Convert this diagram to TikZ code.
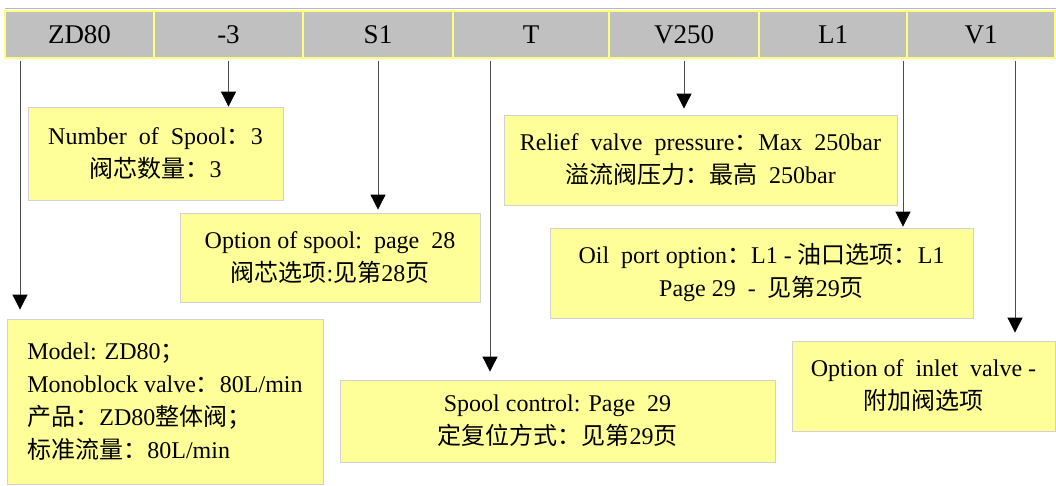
\documentclass[tikz,border=0pt]{standalone}
\usepackage{fontspec}
\setmainfont{Liberation Serif}
\newfontfamily\cjk{Noto Sans CJK SC}
\usetikzlibrary{positioning}
\usetikzlibrary{arrows.meta}
\newcommand{\zh}[1]{{\cjk #1}}
\definecolor{notefill}{RGB}{255,255,153}
\definecolor{cellfill}{RGB}{192,192,192}
\definecolor{celledge}{RGB}{255,255,130}

\tikzset{
  cell/.style={draw=celledge, line width=1.5pt, fill=cellfill, outer sep=0pt,
    minimum height=47pt, inner sep=0pt, font=\fontsize{27}{32}\selectfont},
  note/.style={draw=gray!35, line width=0.8pt, fill=notefill, inner sep=0pt,
    align=center, font=\fontsize{24}{33}\selectfont},
  lead/.style={draw=black!70, line width=0.8pt,
    -{Triangle[length=15pt,width=15pt,color=black,fill=black]}},
}

\begin{document}
\begin{tikzpicture}[x=1pt,y=-1pt]
    \useasboundingbox (0,0) rectangle (1056,485);
    \draw[gray!55, line width=0.8pt] (5,8) -- (1056,8);
    % code bar
    \node[cell, minimum width=149pt] (zd) at (79.5,34.5) {ZD80};
    \node[cell, minimum width=149pt, right=0pt of zd] (nsp) {-3};
    \node[cell, minimum width=150pt, right=0pt of nsp] (sone) {S1};
    \node[cell, minimum width=156pt, right=0pt of sone] (tee) {T};
    \node[cell, minimum width=150pt, right=0pt of tee] (vtf) {V250};
    \node[cell, minimum width=148pt, right=0pt of vtf] (lone) {L1};
    \node[cell, minimum width=148pt, right=0pt of lone] (vone) {V1};

    % explanation boxes
    \node[note, minimum width=255pt, minimum height=93pt] (num) at (155.5,153.5)
      {Number\ \ of\ \ Spool\zh{：}3\\ \zh{阀芯数量：}3};
    \node[note, minimum width=300pt, minimum height=89pt] (sopt) at (330,257.5)
      {Option of spool:\ \ page\ \ 28\\ \zh{阀芯选项}:\zh{见第}28\zh{页}};
    \node[note, align=left, minimum width=316pt, minimum height=165pt] (model) at (165,401.5)
      {Model: ZD80\zh{；}\\ Monoblock valve\zh{：}80L/min\\
       \zh{产品：}ZD80\zh{整体阀；}\\ \zh{标准流量：}80L/min};
    \node[note, minimum width=435pt, minimum height=82pt] (ctrl) at (557.5,421)
      {Spool control: Page\ \ 29\\ \zh{定复位方式：见第}29\zh{页}};
    \node[note, minimum width=393pt, minimum height=90pt] (relief) at (700.5,160)
      {Relief\ \ valve\ \ pressure\zh{：}Max\ \ 250bar\\ \zh{溢流阀压力：最高}\ \ 250bar};
    \node[note, minimum width=423pt, minimum height=90pt] (oil) at (761.5,273)
      {Oil\ \ port option\zh{：}L1 - \zh{油口选项：}L1\\ Page 29\ \ -\ \ \zh{见第}29\zh{页}};
    \node[note, minimum width=263pt, minimum height=90pt] (inlet) at (923.5,386)
      {Option of\ \ inlet\ \ valve -\\ \zh{附加阀选项}};

    % leaders
    \coordinate (zdfoot) at ([shift={(15,3)}]zd.south west);
    \coordinate (nspfoot) at ([yshift=-3pt]nsp.south);
    \coordinate (sonefoot) at ([yshift=-3pt]sone.south);
    \coordinate (teefoot) at ([shift={(37,3)}]tee.south west);
    \coordinate (vtffoot) at ([yshift=-3pt]vtf.south);
    \coordinate (lonefoot) at ([shift={(-4,3)}]lone.south east);
    \coordinate (vonefoot) at ([shift={(108,3)}]vone.south west);
    \draw[lead, shorten >=9pt] (zdfoot) -- (zdfoot |- model.north);
    \draw[lead] (nspfoot) -- (nspfoot |- num.north);
    \draw[lead, shorten >=3pt] (sonefoot) -- (sonefoot |- sopt.north);
    \draw[lead, shorten >=8pt] (teefoot) -- (teefoot |- ctrl.north);
    \draw[lead, shorten >=6pt] (vtffoot) -- (vtffoot |- relief.north);
    \draw[lead, shorten >=1pt] (lonefoot) -- (lonefoot |- oil.north);
    \draw[lead, shorten >=8pt] (vonefoot) -- (vonefoot |- inlet.north);
  \end{tikzpicture}
\end{document}
